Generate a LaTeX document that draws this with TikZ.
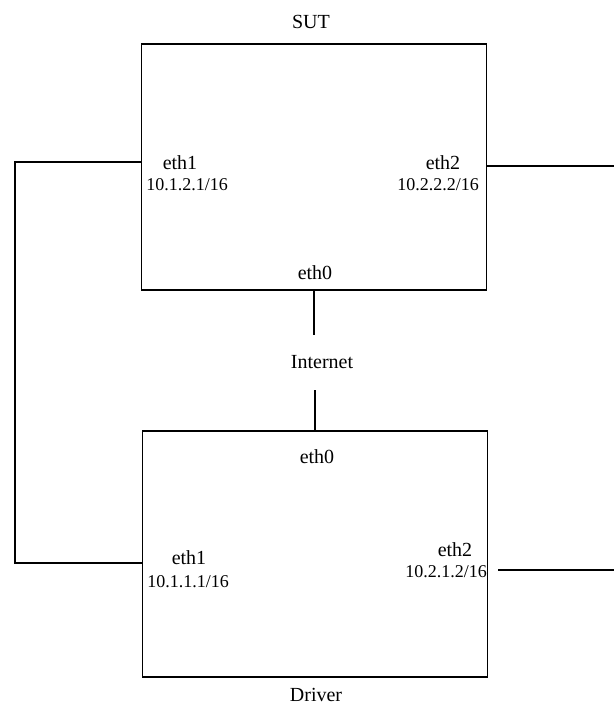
\documentclass[tikz,border=0pt]{standalone}
\usepackage{fontspec}
\setmainfont{Liberation Serif}
\usetikzlibrary{positioning,calc}

\begin{document}
\begin{tikzpicture}[
  x=0.5pt, y=-0.5pt,
  host/.style={draw, rectangle, minimum width=172.5pt, minimum height=123pt,
               line width=0.8pt, inner sep=0pt},
  lbl/.style={font=\fontsize{10}{12}\selectfont, inner sep=0pt},
  port/.style={font=\fontsize{10}{12}\selectfont, inner sep=0pt},
  ip/.style={font=\fontsize{9}{11}\selectfont, inner sep=0pt},
  wire/.style={line width=0.75pt}
]
\useasboundingbox (0,0) rectangle (614,721);

%% Hosts
\node[host] (sut) at (314,167) {};
\node[host] (drv) at (315,554) {};
\node[lbl] (sutname) at (311,22) {SUT};
\node[lbl] (drvname) at (316,695) {Driver};

%% SUT interfaces
\node[port] (s1) at (180,163) {eth1};
\node[ip]   (s1ip) at (187,185) {10.1.2.1/16};
\node[port] (s2) at (443,163) {eth2};
\node[ip]   (s2ip) at (438,185) {10.2.2.2/16};
\node[port] (s0) at (315,273) {eth0};

%% Driver interfaces
\node[port] (d0) at (317,457) {eth0};
\node[port] (d1) at (189,558) {eth1};
\node[ip]   (d1ip) at (188,582) {10.1.1.1/16};
\node[port] (d2) at (455,550) {eth2};
\node[ip]   (d2ip) at (446,572) {10.2.1.2/16};

%% Network in between
\node[lbl, minimum height=27.5pt] (inet) at (322,362.5) {Internet};

%% Ports on the box edges
\coordinate (sut-p1) at (sut.west |- 0,162);
\coordinate (sut-p2) at (sut.east |- 0,166);
\coordinate (drv-p1) at (drv.west |- 0,563);
\coordinate (drv-p2) at (498,570);
\coordinate (wrap) at (15,0);
\coordinate (edge) at (614,0);

%% Wires
\draw[wire] (sut-p1) -- (wrap |- sut-p1) -- (wrap |- drv-p1) -- (drv-p1);
\draw[wire] (sut-p2) -- (edge |- sut-p2);
\draw[wire] (drv-p2) -- (edge |- drv-p2);
\draw[wire] (sut.south) -- (sut.south |- inet.north);
\draw[wire] (drv.north |- inet.south) -- (drv.north);

\end{tikzpicture}
\end{document}
